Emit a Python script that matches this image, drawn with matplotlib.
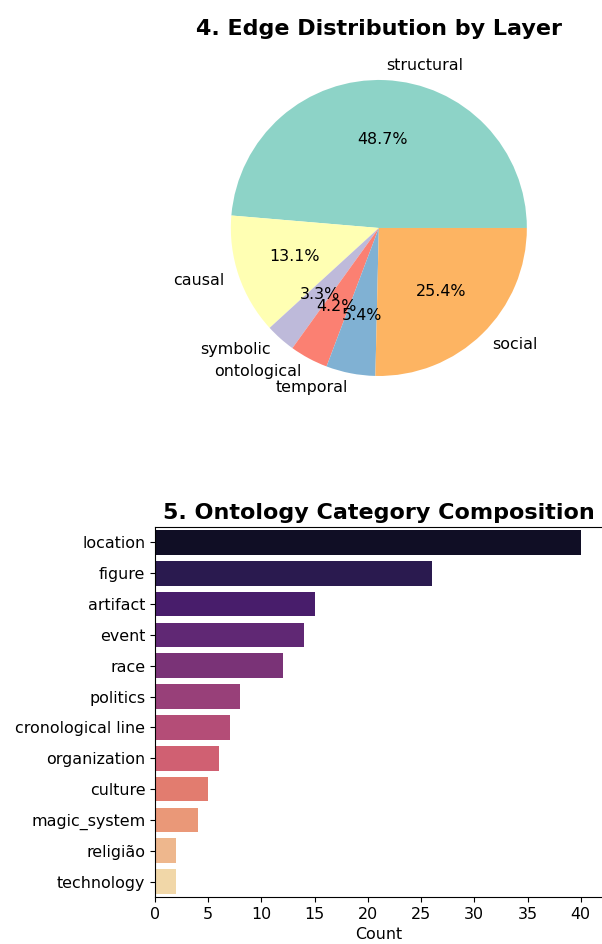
import matplotlib
matplotlib.use("Agg")
import matplotlib.pyplot as plt
import seaborn as sns

# edge layers (counts)
layers = ["structural", "causal", "symbolic", "ontological", "temporal", "social"]
layer_counts = [163, 44, 11, 14, 18, 85]

# ontology categories
categories = ["location", "figure", "artifact", "event", "race", "politics",
              "cronological line", "organization", "culture", "magic_system",
              "religião", "technology"]
cat_counts = [40, 26, 15, 14, 12, 8, 7, 6, 5, 4, 2, 2]

plt.rcParams['font.size'] = 11.4

fig = plt.figure(figsize=(6.02, 9.44), dpi=100)

# 4. pie
ax1 = fig.add_axes([0.322, 0.5625, 0.6146, 0.392])
colors = sns.color_palette("Set3", len(layers))
ax1.pie(layer_counts, labels=layers, colors=colors, autopct="%1.1f%%")
ax1.set_title("4. Edge Distribution by Layer", fontsize=16, fontweight="bold")

# 5. bars
ax2 = fig.add_axes([0.2575, 0.0498, 0.7425, 0.392])
sns.barplot(x=cat_counts, y=categories, hue=categories, palette="magma",
            legend=False, ax=ax2)
ax2.set_title("5. Ontology Category Composition", fontsize=16, fontweight="bold")
ax2.set_xlabel("Count")
ax2.set_ylabel("")
ax2.spines["right"].set_visible(False)

fig.savefig("out.png", dpi=100)
